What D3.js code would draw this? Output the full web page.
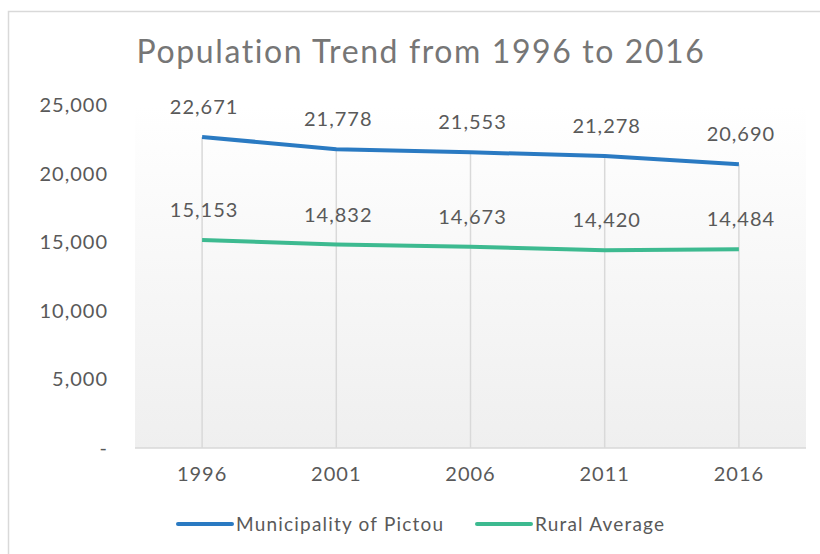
<!DOCTYPE html>
<html>
<head>
<meta charset="utf-8">
<script src="https://cdn.jsdelivr.net/npm/d3@7"></script>
<style>
  body { margin: 0; background: #fff; }
  text { font-family: Lato, "Open Sans", sans-serif; fill: #595959; }
</style>
</head>
<body>
<div id="chart"></div>
<script>
// Data
const years = ['1996', '2001', '2006', '2011', '2016'];
const pictou = [22671, 21778, 21553, 21278, 20690];
const rural = [15153, 14832, 14673, 14420, 14484];
const y_ticks = [0, 5000, 10000, 15000, 20000, 25000];

const series = [
    { name: 'Municipality of Pictou', values: pictou, color: '#2a7ac2' },
    { name: 'Rural Average', values: rural, color: '#3dba90' },
];

const width = 820;
const height = 554;
const plot = { left: 135, right: 806, top: 105, bottom: 448 };

// Scales
const x_scale = d3.scaleBand()
    .domain(years)
    .range([plot.left, plot.right]);

const y_scale = d3.scaleLinear()
    .domain([0, 25000])
    .range([plot.bottom, plot.top]);

const fmt = d3.format(',');
const cx = d => x_scale(d) + x_scale.bandwidth() / 2;

// SVG
const svg = d3.select('#chart')
    .append('svg')
    .attr('width', width)
    .attr('height', height);

// Background gradient
const grad = svg.append('defs').append('linearGradient')
    .attr('id', 'bg')
    .attr('x1', 0).attr('y1', 0).attr('x2', 0).attr('y2', 1);
grad.append('stop').attr('offset', '0%').attr('stop-color', '#ffffff');
grad.append('stop').attr('offset', '100%').attr('stop-color', '#efefef');

// Chart frame
svg.append('path')
    .attr('d', `M8.5,${height} V11.5 H${width}`)
    .attr('fill', 'none')
    .attr('stroke', '#d9d9d9')
    .attr('stroke-width', 1.5);

svg.append('rect')
    .attr('x', plot.left)
    .attr('y', plot.top)
    .attr('width', plot.right - plot.left)
    .attr('height', plot.bottom - plot.top)
    .attr('fill', 'url(#bg)');

// Title
svg.append('text')
    .attr('x', 421)
    .attr('y', 63)
    .attr('text-anchor', 'middle')
    .style('font-size', '32px')
    .style('letter-spacing', '1.6px')
    .style('fill', '#767676')
    .text('Population Trend from 1996 to 2016');

// Drop lines
svg.append('g')
    .selectAll('line')
    .data(years)
    .enter()
    .append('line')
    .attr('x1', d => cx(d))
    .attr('x2', d => cx(d))
    .attr('y1', (d, i) => y_scale(Math.max(pictou[i], rural[i])))
    .attr('y2', plot.bottom)
    .attr('stroke', '#d9d9d9')
    .attr('stroke-width', 1.5);

// Baseline
svg.append('line')
    .attr('x1', plot.left)
    .attr('x2', plot.right)
    .attr('y1', plot.bottom)
    .attr('y2', plot.bottom)
    .attr('stroke', '#d9d9d9')
    .attr('stroke-width', 1.5);

// Y axis labels
svg.append('g')
    .selectAll('text')
    .data(y_ticks)
    .enter()
    .append('text')
    .attr('x', 108)
    .attr('y', d => y_scale(d))
    .attr('dy', '0.35em')
    .attr('text-anchor', 'end')
    .style('font-size', '20px')
    .style('letter-spacing', '1px')
    .text(d => d === 0 ? '-' : fmt(d));

// X axis labels
svg.append('g')
    .selectAll('text')
    .data(years)
    .enter()
    .append('text')
    .attr('x', d => cx(d))
    .attr('y', 474)
    .attr('dy', '0.35em')
    .attr('text-anchor', 'middle')
    .style('font-size', '20px')
    .style('letter-spacing', '1px')
    .text(d => d);

// Lines
const line = d3.line()
    .x((d, i) => cx(years[i]))
    .y(d => y_scale(d));

svg.append('g')
    .selectAll('path')
    .data(series)
    .enter()
    .append('path')
    .attr('d', d => line(d.values))
    .attr('fill', 'none')
    .attr('stroke', d => d.color)
    .attr('stroke-width', 4);

// Data labels
const labels = svg.append('g')
    .selectAll('g')
    .data(series)
    .enter()
    .append('g');

labels.selectAll('text')
    .data(d => d.values)
    .enter()
    .append('text')
    .attr('x', (d, i) => cx(years[i]) + 2)
    .attr('y', d => y_scale(d) - 30)
    .attr('dy', '0.35em')
    .attr('text-anchor', 'middle')
    .style('font-size', '20px')
    .style('letter-spacing', '1px')
    .text(d => fmt(d));

// Legend
const legend_x = [178, 477];
const legend = svg.append('g')
    .selectAll('g')
    .data(series)
    .enter()
    .append('g')
    .attr('transform', (d, i) => `translate(${legend_x[i]},524)`);

legend.append('line')
    .attr('x1', 0)
    .attr('x2', 54)
    .attr('stroke', d => d.color)
    .attr('stroke-width', 4)
    .attr('stroke-linecap', 'round');

legend.append('text')
    .attr('x', 58)
    .attr('dy', '0.35em')
    .style('font-size', '19px')
    .style('letter-spacing', '1.2px')
    .text(d => d.name);
</script>
</body>
</html>
